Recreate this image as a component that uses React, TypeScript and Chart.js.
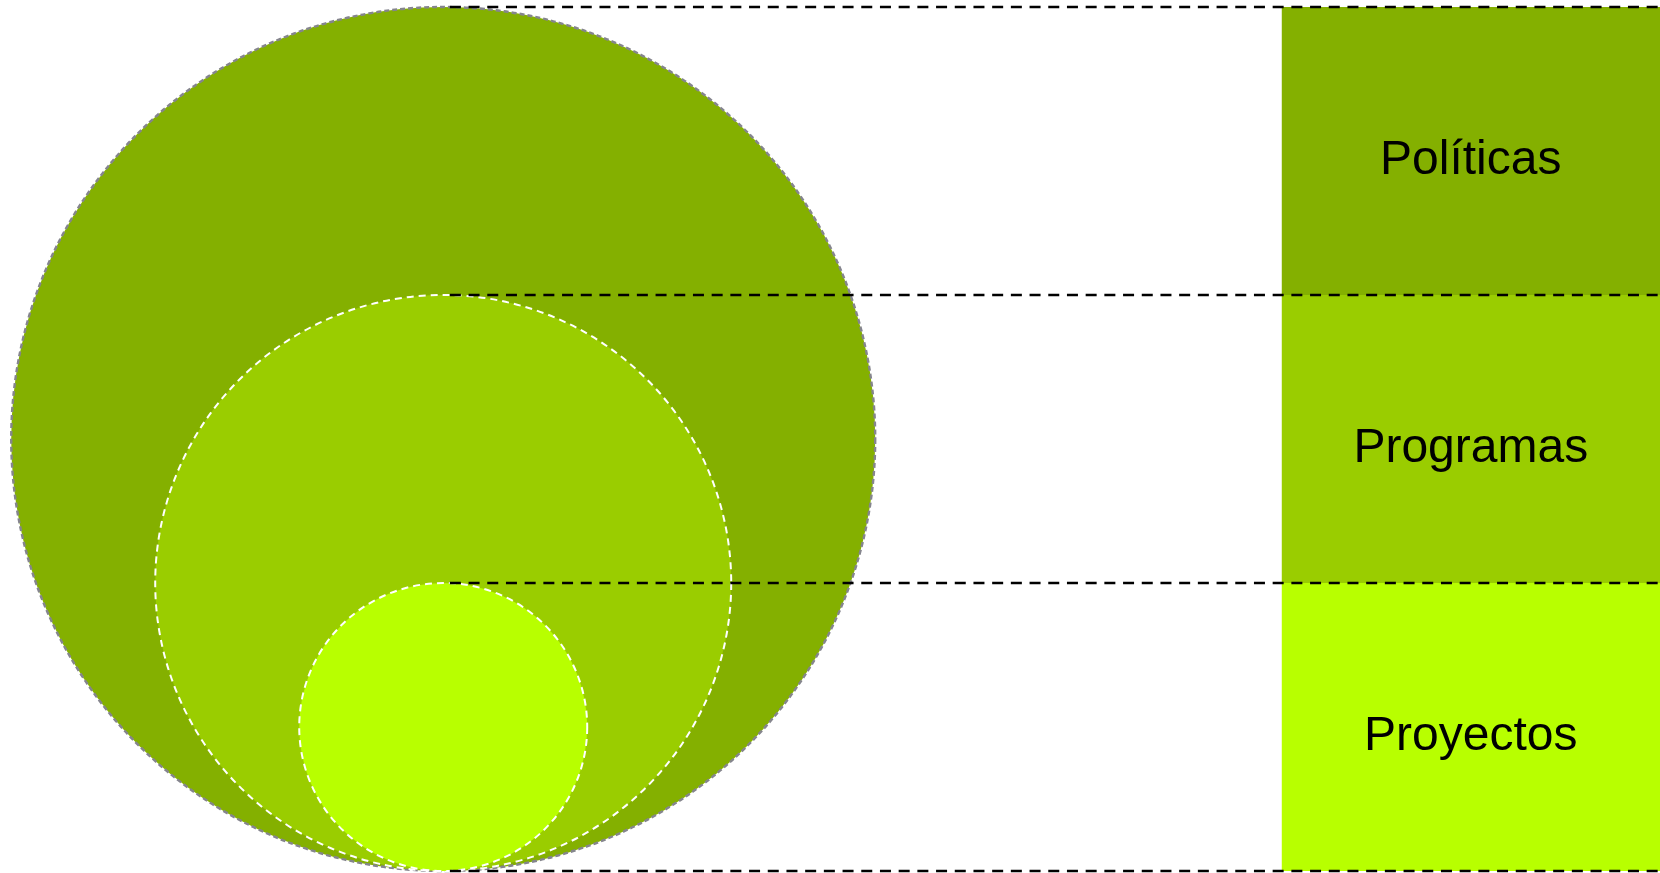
import { useEffect, useRef } from 'react';
import { Chart, registerables } from 'chart.js';

Chart.register(...registerables);

// ---- data ----
const categories = ['Políticas', 'Programas', 'Proyectos'];
const bandTop = [3, 2, 1];
const bandBottom = [2, 1, 0];
const circleDiameters = [3, 2, 1];
const guideLevels = [3, 2, 1, 0];

// ---- styling / layout constants (scale units) ----
const fillColors = ['#84B000', '#9ACD00', '#B8FF00'];
const circleBorders = ['#85858d', '#ffffff', '#ffffff'];
const circleBorderWidths = [2.4, 2, 2];
const circleDashes = [[5, 3], [7, 5], [7, 5]];
const CIRCLE_X = 26.7;
const GUIDE_START = 27.1;
const RECT_LEFT = 77.2;
const RECT_RIGHT = 100;

const circleDashPlugin = {
  id: 'circleDash',
  beforeDatasetDraw(chart: any, args: any) {
    const ds: any = chart.data.datasets[args.index];
    if (ds.circleDash) {
      chart.ctx.save();
      chart.ctx.setLineDash(ds.circleDash);
    }
  },
  afterDatasetDraw(chart: any, args: any) {
    const ds: any = chart.data.datasets[args.index];
    if (ds.circleDash) chart.ctx.restore();
  },
};

const labelPlugin = {
  id: 'bandLabels',
  afterDatasetsDraw(chart: any) {
    const { ctx, scales } = chart;
    const x = scales.x;
    const y = scales.y;
    ctx.save();
    ctx.font = '48px "Liberation Sans", Arial, sans-serif';
    ctx.fillStyle = '#000';
    ctx.textAlign = 'center';
    ctx.textBaseline = 'middle';
    categories.forEach((c, i) => {
      const cx = x.getPixelForValue((RECT_LEFT + RECT_RIGHT) / 2);
      const cy = y.getPixelForValue((bandTop[i] + bandBottom[i]) / 2) + 10;
      ctx.fillText(c, cx, cy);
    });
    ctx.restore();
  },
};

export default function App() {
  const ref = useRef<HTMLCanvasElement | null>(null);

  useEffect(() => {
    if (!ref.current) return;

    const guides = guideLevels.map((v) => ({
      type: 'line',
      data: [
        { x: GUIDE_START, y: v },
        { x: RECT_RIGHT, y: v },
      ],
      borderColor: '#000000',
      borderWidth: 2.5,
      borderDash: [11, 7.7],
      pointRadius: 0,
      fill: false,
      clip: false,
      order: 0,
    }));

    const circles = categories.map((c, i) => ({
      type: 'bubble',
      label: c,
      data: [{ x: CIRCLE_X, y: circleDiameters[i] / 2 }],
      backgroundColor: fillColors[i],
      borderColor: circleBorders[i],
      borderWidth: circleBorderWidths[i],
      circleDash: circleDashes[i],
      clip: false,
      order: 3 - i,
    }));

    const rects = categories.map((c, i) => ({
      type: 'line',
      label: c + ' band',
      data: [
        { x: RECT_LEFT, y: bandTop[i] },
        { x: RECT_RIGHT, y: bandTop[i] },
      ],
      borderWidth: 0,
      borderColor: 'rgba(0,0,0,0)',
      backgroundColor: fillColors[i],
      pointRadius: 0,
      fill: { value: bandBottom[i] },
      clip: false,
      order: 5,
    }));

    const chart = new Chart(ref.current, {
      type: 'bubble',
      data: { datasets: [...guides, ...circles, ...rects] as any },
      options: {
        animation: false,
        responsive: false,
        events: [],
        layout: { padding: { top: 7, bottom: 2, left: 0, right: 0 }, autoPadding: false },
        scales: {
          x: { type: 'linear', min: 0, max: 100, display: false },
          y: { type: 'linear', min: 0, max: 3, display: false },
        },
        plugins: {
          legend: { display: false },
          tooltip: { enabled: false },
        },
      } as any,
      plugins: [circleDashPlugin, labelPlugin],
    });

    // bubble radius (pixels) derived from the y scale: diameter spans that many bands
    const ys: any = chart.scales.y;
    circles.forEach((ds: any, i) => {
      const r = Math.abs(ys.getPixelForValue(0) - ys.getPixelForValue(circleDiameters[i])) / 2;
      ds.data = ds.data.map((p: any) => ({ ...p, r }));
    });
    chart.update('none');

    return () => chart.destroy();
  }, []);

  return (
    <div style={{ position: 'fixed', left: 0, top: 0, width: 1660, height: 873, background: '#fff' }}>
      <canvas ref={ref} width={1660} height={873} style={{ display: 'block', width: 1660, height: 873 }} />
    </div>
  );
}
